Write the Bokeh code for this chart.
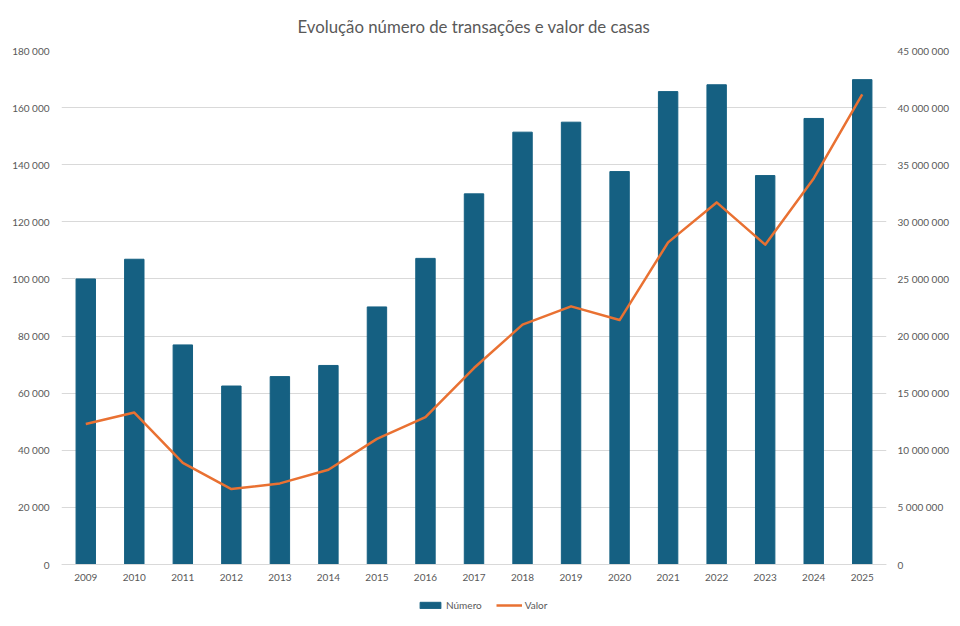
from bokeh.plotting import figure
from bokeh.models import (Range1d, LinearAxis, FixedTicker, CustomJSTickFormatter,
                          Legend, LegendItem, FactorRange, Title, ColumnDataSource)
from bokeh.embed import file_html
from bokeh.resources import INLINE

years = ["2009", "2010", "2011", "2012", "2013", "2014", "2015", "2016", "2017",
         "2018", "2019", "2020", "2021", "2022", "2023", "2024", "2025"]
numero = [100000, 106900, 76900, 62500, 65800, 69700, 90200, 107200, 129800,
          151400, 154900, 137600, 165600, 168000, 136200, 156200, 169800]
valor = [12300000, 13300000, 8900000, 6600000, 7100000, 8300000, 11000000, 12900000,
         17200000, 21000000, 22600000, 21400000, 28200000, 31700000, 28000000,
         33800000, 41150000]
left_ticks = [0, 20000, 40000, 60000, 80000, 100000, 120000, 140000, 160000, 180000]
right_ticks = [0, 5000000, 10000000, 15000000, 20000000, 25000000, 30000000,
               35000000, 40000000, 45000000]

TITLE = "Evolução número de transações e valor de casas"
FONT = "Lato"
GRAY = "#595959"
GRID = "#d9d9d9"
BAR_COLOR = "#156082"
LINE_COLOR = "#E97132"

LEFT_MAX = 180000
RIGHT_MAX = 45000000
PLOT_PX = 514          # height of the data area (0 .. max)
EXT_PX = 60            # extra room below zero for axis labels and legend
left_min = -LEFT_MAX * EXT_PX / PLOT_PX
right_min = -RIGHT_MAX * EXT_PX / PLOT_PX

src = ColumnDataSource(dict(years=years, numero=numero, valor=valor))

p = figure(frame_width=825, frame_height=PLOT_PX + EXT_PX,
           x_range=FactorRange(*years, range_padding=0),
           y_range=Range1d(left_min, LEFT_MAX), output_backend="svg", toolbar_location=None,
           min_border_left=61, min_border_right=70, min_border_top=49,
           min_border_bottom=0)
p.extra_y_ranges = {"right": Range1d(right_min, RIGHT_MAX)}

p.title = Title(text=TITLE, align="center", text_font=FONT, text_font_size="16.8px",
                text_font_style="normal", text_color=GRAY, standoff=27)
p.outline_line_color = None

fmt = CustomJSTickFormatter(code="return tick.toFixed(0).replace(/\\B(?=(\\d{3})+(?!\\d))/g, ' ');")

bars = p.vbar(x="years", top="numero", bottom=0, width=0.4, source=src, color=BAR_COLOR)
line = p.line(x="years", y="valor", source=src, y_range_name="right",
              line_color=LINE_COLOR, line_width=2.5, line_join="round")

yl = p.yaxis[0]
yl.ticker = FixedTicker(ticks=left_ticks)
yl.formatter = fmt
yr = LinearAxis(y_range_name="right", ticker=FixedTicker(ticks=right_ticks), formatter=fmt)
p.add_layout(yr, "right")
for ax in (yl, yr):
    ax.axis_line_color = None
    ax.major_tick_line_color = None
    ax.minor_tick_line_color = None
    ax.major_tick_out = 0
    ax.major_tick_in = 0
    ax.major_label_text_font = FONT
    ax.major_label_text_font_size = "10px"
    ax.major_label_text_color = GRAY
yl.major_label_standoff = 12
yr.major_label_standoff = 11

xa = p.xaxis[0]
xa.fixed_location = 0
xa.axis_line_color = GRID
xa.axis_line_width = 1
xa.major_tick_line_color = None
xa.minor_tick_line_color = None
xa.major_tick_out = 0
xa.major_tick_in = 0
xa.major_label_text_font = FONT
xa.major_label_text_font_size = "10px"
xa.major_label_text_color = GRAY
xa.major_label_standoff = 9

p.xgrid.grid_line_color = None
p.ygrid.grid_line_color = GRID
p.ygrid.ticker = FixedTicker(ticks=left_ticks)

legend = Legend(items=[LegendItem(label="Número", renderers=[bars]),
                       LegendItem(label="Valor", renderers=[line])],
                orientation="horizontal", location=(356, 12),
                label_text_font=FONT, label_text_font_size="10px", label_text_color=GRAY,
                glyph_width=26, glyph_height=8, label_height=14, label_standoff=3,
                spacing=14, padding=0, margin=0, border_line_color=None,
                background_fill_alpha=0)
p.add_layout(legend, "center")

open("out.html", "w").write(file_html(p, INLINE))
